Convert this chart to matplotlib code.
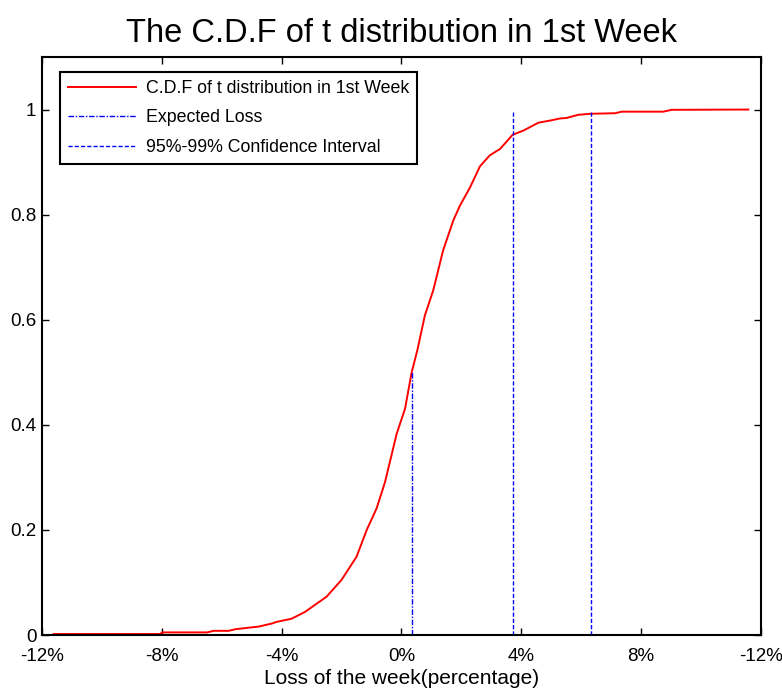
import numpy as np
import matplotlib
matplotlib.use("Agg")
import matplotlib.pyplot as plt

plt.rcParams['font.family'] = ['Liberation Sans', 'DejaVu Sans']

# weekly loss (%) and cumulative probability of the fitted t distribution
loss = [-11.61, -8.05, -7.99, -6.49, -6.27, -5.77, -5.55, -5.10, -4.77, -4.32,
        -4.17, -3.67, -3.22, -2.50, -2.00, -1.50, -1.16, -0.83, -0.55, -0.16,
        0.12, 0.34, 0.53, 0.78, 1.06, 1.39, 1.73, 1.95, 2.29, 2.62,
        2.95, 3.29, 3.71, 4.07, 4.57, 4.96, 5.29, 5.51, 5.90, 6.31,
        7.13, 7.35, 8.74, 9.02, 11.58]
cdf = [0.002, 0.002, 0.005, 0.005, 0.008, 0.008, 0.011, 0.014, 0.016, 0.022,
       0.025, 0.031, 0.044, 0.073, 0.105, 0.149, 0.200, 0.241, 0.291, 0.383,
       0.431, 0.500, 0.542, 0.608, 0.656, 0.732, 0.789, 0.817, 0.852, 0.892,
       0.913, 0.925, 0.952, 0.960, 0.975, 0.979, 0.983, 0.984, 0.990, 0.992,
       0.993, 0.996, 0.996, 0.9995, 1.0]

expected_loss = 0.34
expected_cdf = 0.50
conf_bounds = [3.72, 6.33]

xticks = [-12, -8, -4, 0, 4, 8, 12]
xticklabels = ['-12%', '-8%', '-4%', '0%', '4%', '8%', '-12%']
yticks = [0, 0.2, 0.4, 0.6, 0.8, 1]
yticklabels = ['0', '0.2', '0.4', '0.6', '0.8', '1']

fig = plt.figure(figsize=(7.82, 6.96), dpi=100)
ax = fig.add_axes([0.0537, 0.0876, 0.9194, 0.8305])

ax.plot(loss, cdf, color='red', lw=1.4, label='C.D.F of t distribution in 1st Week')
ax.plot([expected_loss, expected_loss], [0, expected_cdf], color='blue', lw=1.0,
        linestyle=(0, (4, 1.2, 1, 1.2)), label='Expected Loss')
for i, b in enumerate(conf_bounds):
    ax.plot([b, b], [0, 1], color='blue', lw=1.0, linestyle=(0, (3, 1.5)),
            label='95%-99% Confidence Interval' if i == 0 else None)

ax.set_xlim(-12, 12)
ax.set_ylim(0, 1.1)
ax.set_xticks(xticks)
ax.set_xticklabels(xticklabels)
ax.set_yticks(yticks)
ax.set_yticklabels(yticklabels)
ax.tick_params(direction='in', top=True, right=True, length=5, width=1,
               labelsize=13.5)
ax.tick_params(axis='x', pad=9)
ax.tick_params(axis='y', pad=4)
for s in ax.spines.values():
    s.set_linewidth(1.5)

ax.set_title('The C.D.F of t distribution in 1st Week', fontsize=23.5, pad=11)
ax.set_xlabel('Loss of the week(percentage)', fontsize=15, labelpad=3)

leg = ax.legend(loc='upper left', bbox_to_anchor=(0.025, 0.974), borderaxespad=0,
                fontsize=12.8, fancybox=False, framealpha=1, edgecolor='black',
                handlelength=3.8, handletextpad=0.6, labelspacing=0.7,
                borderpad=0.45)
leg.get_frame().set_linewidth(1.5)

fig.savefig('out.png', dpi=100)
